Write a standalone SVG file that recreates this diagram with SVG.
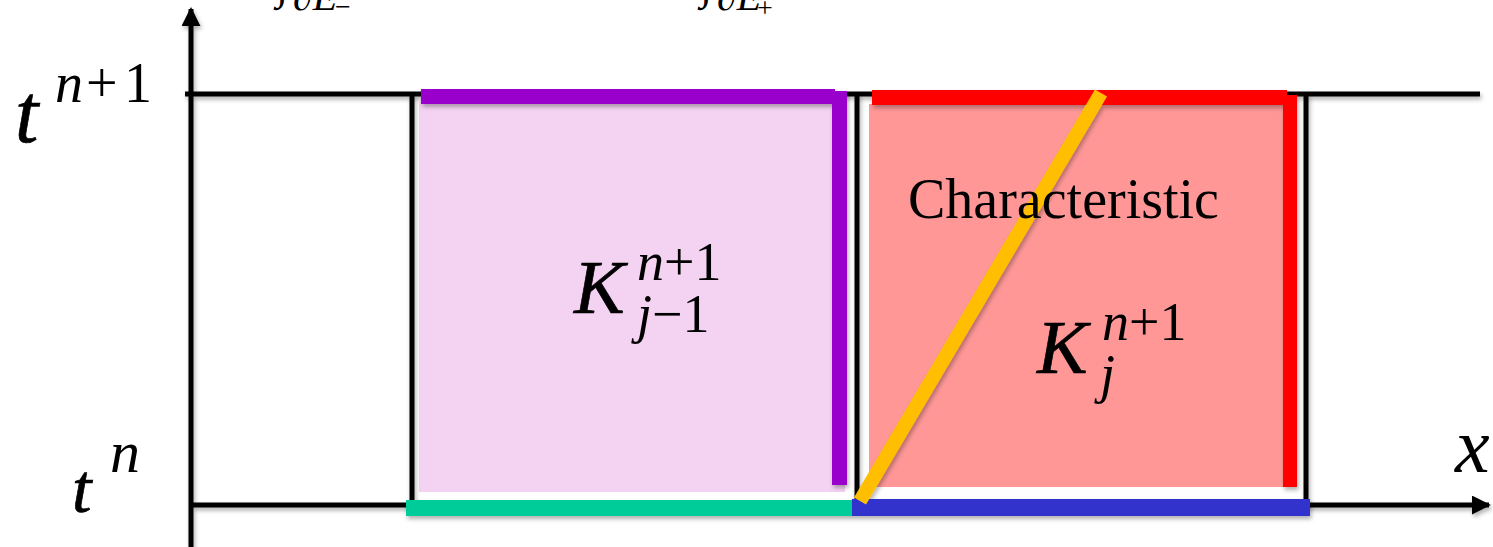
<svg xmlns="http://www.w3.org/2000/svg" width="1493" height="547" viewBox="0 0 1493 547">
<style>
.ax{stroke:#000;stroke-width:5;fill:none}
.cb{stroke:#000;stroke-width:5;fill:none}
.bar{stroke:none}
.m{font-family:"Liberation Serif","Times New Roman",serif;fill:#000}
.i{font-style:italic}
.hv{stroke:#000;stroke-width:0.7}
</style>
<defs>
<filter id="sh" filterUnits="userSpaceOnUse" x="0" y="0" width="1493" height="547">
<feDropShadow dx="1.5" dy="3" stdDeviation="2" flood-color="#000" flood-opacity="0.3"/>
</filter>
<marker id="ah" viewBox="0 0 10 10" refX="9" refY="5" markerWidth="3.8" markerHeight="3.8" markerUnits="strokeWidth" orient="auto">
<path d="M0,0 L10,5 L0,10 z" fill="#000"/>
</marker>
</defs>
<rect width="1493" height="547" fill="#fff"/>
<g id="top-labels" class="m">
<text x="276" y="-2" font-size="46">∫</text>
<text x="293" y="10" font-size="40" class="i">∂E</text>
<text x="335" y="16" font-size="28">−</text>
<text x="700" y="-2" font-size="46">∫</text>
<text x="717" y="10" font-size="40" class="i">∂E</text>
<text x="757" y="17" font-size="28">+</text>
</g>
<g id="axes" filter="url(#sh)">
<line class="ax" x1="191" y1="547" x2="191" y2="9" marker-end="url(#ah)"/>
<line class="ax" x1="185" y1="94" x2="1480" y2="94"/>
<line class="ax" x1="191" y1="505" x2="1489" y2="505" marker-end="url(#ah)"/>
</g>
<g id="cell-left">
<rect x="419" y="100" width="426" height="392" fill="#F4D3F2"/>
<line class="cb" x1="412" y1="94" x2="412" y2="505" filter="url(#sh)"/>
</g>
<g id="cell-right">
<rect x="869" y="104" width="421" height="383" fill="#FF9797"/>
<line class="cb" x1="857" y1="94" x2="857" y2="505" filter="url(#sh)"/>
<line class="cb" x1="1306" y1="94" x2="1306" y2="505" filter="url(#sh)"/>
</g>
<g id="connectors" filter="url(#sh)">
<rect class="bar" x="421" y="89" width="414" height="15" fill="#9900CC"/>
<rect class="bar" x="832" y="91" width="15" height="394" fill="#9900CC"/>
<rect class="bar" x="872" y="90" width="415" height="15" fill="#FF0000"/>
<rect class="bar" x="1283" y="95" width="14" height="392" fill="#FF0000"/>
<rect class="bar" x="406" y="500" width="447" height="16" fill="#00CC99"/>
<rect class="bar" x="852" y="499" width="458" height="17" fill="#3333CC"/>
<line x1="860" y1="501" x2="1101" y2="93" stroke="#FFBF00" stroke-width="14"/>
</g>
<g id="labels" class="m">
<text x="15" y="142" font-size="84" class="i hv">t</text>
<text y="102" font-size="56"><tspan x="55" class="i">n</tspan><tspan x="86">+</tspan><tspan x="124">1</tspan></text>
<text x="72" y="512" font-size="70" class="i hv">t</text>
<text x="110" y="472" font-size="60" class="i">n</text>
<text x="1455" y="472" font-size="78" class="i">x</text>
<text x="908" y="218" font-size="56">Characteristic</text>
<text x="574" y="313" font-size="76" class="i hv">K</text>
<text x="637" y="280" font-size="54"><tspan class="i">n</tspan>+1</text>
<text x="637" y="332" font-size="54"><tspan class="i">j</tspan>−1</text>
<text x="1037" y="373" font-size="76" class="i hv">K</text>
<text x="1102" y="340" font-size="54"><tspan class="i">n</tspan>+1</text>
<text x="1100" y="392" font-size="54" class="i">j</text>
</g>
</svg>
